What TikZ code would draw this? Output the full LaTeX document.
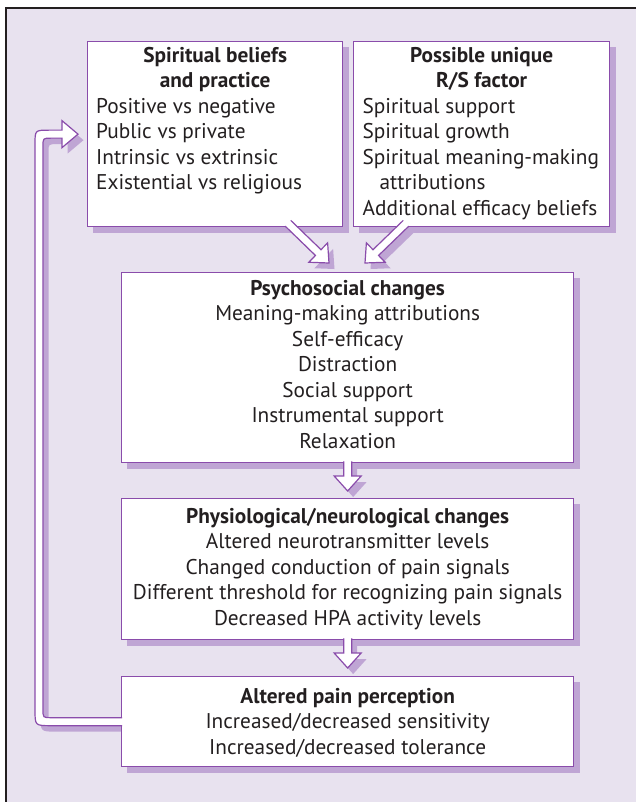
\documentclass[tikz,border=0pt]{standalone}
\usepackage{fontspec}
\setmainfont{PT Sans}
\usetikzlibrary{calc}
\definecolor{bgc}{HTML}{E8E2EF}
\definecolor{boxc}{HTML}{8A4CAB}
\definecolor{shc}{HTML}{BFA5D4}
\definecolor{framec}{HTML}{231F20}
\definecolor{txtc}{HTML}{231F20}
\pgfdeclarelayer{bgl}
\pgfdeclarelayer{shad}
\pgfsetlayers{bgl,shad,main}
% block arrow coordinates: #1 prefix, #2 start, #3 tip
\newcommand\arrowcoords[3]{%
  \coordinate (#1h) at ($(#3)!15pt!(#2)$);
  \coordinate (#1a) at ($(#2)!4pt!90:(#3)$);
  \coordinate (#1b) at ($(#1h)!4pt!90:(#3)$);
  \coordinate (#1c) at ($(#1h)!13.5pt!90:(#3)$);
  \coordinate (#1d) at ($(#1h)!13.5pt!-90:(#3)$);
  \coordinate (#1e) at ($(#1h)!4pt!-90:(#3)$);
  \coordinate (#1f) at ($(#2)!4pt!-90:(#3)$);
}
\newcommand\blockarrow[4]{#1 (#2a) -- (#2b) -- (#2c) -- (#3) -- (#2d) -- (#2e) -- (#2f) #4;}
\newcommand\fbarrow[2]{#1 ($(b5.west)+(1,-4)$) -- ($(b5.west)+(-70,-4)$)
  .. controls ($(b5.west)+(-78,-4)$) .. ($(b5.west)+(-78,-12)$)
  -- ($(b1.west)+(-44,12)$) .. controls ($(b1.west)+(-44,4)$) .. ($(b1.west)+(-36,4)$)
  -- ($(b1.west)+(-25,4)$) -- ($(b1.west)+(-25,13.5)$) -- ($(b1.west)+(-9,0)$)
  -- ($(b1.west)+(-25,-13.5)$) -- ($(b1.west)+(-25,-4)$) -- ($(b1.west)+(-38,-4)$)
  .. controls ($(b1.west)+(-52,-4)$) .. ($(b1.west)+(-52,10)$)
  -- ($(b5.west)+(-86,-12)$) .. controls ($(b5.west)+(-86,4)$) .. ($(b5.west)+(-70,4)$)
  -- ($(b5.west)+(1,4)$) #2;}
\begin{document}
\begin{tikzpicture}[x=1pt,y=-1pt,
  box/.style={draw=boxc, fill=white, line width=1.3pt, inner sep=0pt, anchor=north west},
  txt/.style={inner sep=0pt, anchor=north, align=center, text=txtc,
    font=\fontsize{21.3}{25.5}\selectfont},
  arrline/.style={draw=boxc, line width=1.2pt, line join=miter}]
\useasboundingbox (0,0) rectangle (636,802);
\begin{pgfonlayer}{bgl}
  \fill[bgc] (6,8) rectangle (636,802);
  \draw[framec, line width=2.5pt] (6.2,803) -- (6.2,8) -- (637,8);
\end{pgfonlayer}
% boxes
\node[box, minimum width=255pt, minimum height=185pt] (b1) at (87,41) {};
\node[box, minimum width=256pt, minimum height=185pt] (b2) at (353,41) {};
\node[box, minimum width=452pt, minimum height=190pt] (b3) at (121,272) {};
\node[box, minimum width=452pt, minimum height=141pt] (b4) at (121,498) {};
\node[box, minimum width=452pt, minimum height=90pt] (b5) at (121,676) {};
% texts
\node[txt] (t1) at ($(b1.north)+(0,5.8)$) {\textbf{Spiritual beliefs}\\\textbf{and practice}\\
  \makebox[238pt][l]{Positive vs negative}\\\makebox[238pt][l]{Public vs private}\\
  \makebox[238pt][l]{Intrinsic vs extrinsic}\\\makebox[238pt][l]{Existential vs religious}};
\node[txt] (t2) at ($(b2.north)+(0,5.8)$) {\textbf{Possible unique}\\\textbf{R/S factor}\\
  \makebox[238pt][l]{Spiritual support}\\\makebox[238pt][l]{Spiritual growth}\\
  \makebox[238pt][l]{Spiritual meaning-making}\\\makebox[238pt][l]{\hspace*{17pt}attributions}\\
  \makebox[238pt][l]{Additional efficacy beliefs}};
\node[txt] (t3) at ($(b3.north)+(0,8.1)$) {\textbf{Psychosocial changes}\\Meaning-making attributions\\
  Self-efficacy\\Distraction\\Social support\\Instrumental support\\Relaxation};
\node[txt] (t4) at ($(b4.north)+(0,10.1)$) {\textbf{Physiological/neurological changes}\\
  Altered neurotransmitter levels\\Changed conduction of pain signals\\
  Different threshold for recognizing pain signals\\Decreased HPA activity levels};
\node[txt] (t5) at ($(b5.north)+(0,12.1)$) {\textbf{Altered pain perception}\\
  Increased/decreased sensitivity\\Increased/decreased tolerance};
% connector coordinates
\coordinate (s1) at ($(b1.south west)+(201,-4)$);
\coordinate (e1) at ($(b3.north west)+(208,-9)$);
\coordinate (s2) at ($(b2.south west)+(53,-4)$);
\coordinate (e2) at ($(b3.north west)+(244,-9)$);
\coordinate (s3) at ($(b3.south)+(0,-2)$);
\coordinate (e3) at ($(b4.north)+(0,-7)$);
\coordinate (s4) at ($(b4.south)+(0,-2)$);
\coordinate (e4) at ($(b5.north)+(0,-8)$);
\arrowcoords{pa}{s1}{e1}
\arrowcoords{pb}{s2}{e2}
\arrowcoords{pc}{s3}{e3}
\arrowcoords{pd}{s4}{e4}
% shadows
\begin{pgfonlayer}{shad}
\begin{scope}[transform canvas={shift={(5.5pt,-6pt)}}]
  \foreach \b in {b1,b2,b3,b4,b5} {\fill[shc] (\b.north west) rectangle (\b.south east);}
  \blockarrow{\fill[shc]}{pa}{e1}{-- cycle}
  \blockarrow{\fill[shc]}{pb}{e2}{-- cycle}
  \blockarrow{\fill[shc]}{pc}{e3}{-- cycle}
  \blockarrow{\fill[shc]}{pd}{e4}{-- cycle}
  \fbarrow{\fill[shc]}{-- cycle}
\end{scope}
\end{pgfonlayer}
% arrows
\blockarrow{\fill[white]}{pa}{e1}{-- cycle}
\blockarrow{\draw[arrline]}{pa}{e1}{}
\blockarrow{\fill[white]}{pb}{e2}{-- cycle}
\blockarrow{\draw[arrline]}{pb}{e2}{}
\blockarrow{\fill[white]}{pc}{e3}{-- cycle}
\blockarrow{\draw[arrline]}{pc}{e3}{}
\blockarrow{\fill[white]}{pd}{e4}{-- cycle}
\blockarrow{\draw[arrline]}{pd}{e4}{}
\fbarrow{\fill[white]}{-- cycle}
\fbarrow{\draw[arrline]}{}
\end{tikzpicture}
\end{document}
